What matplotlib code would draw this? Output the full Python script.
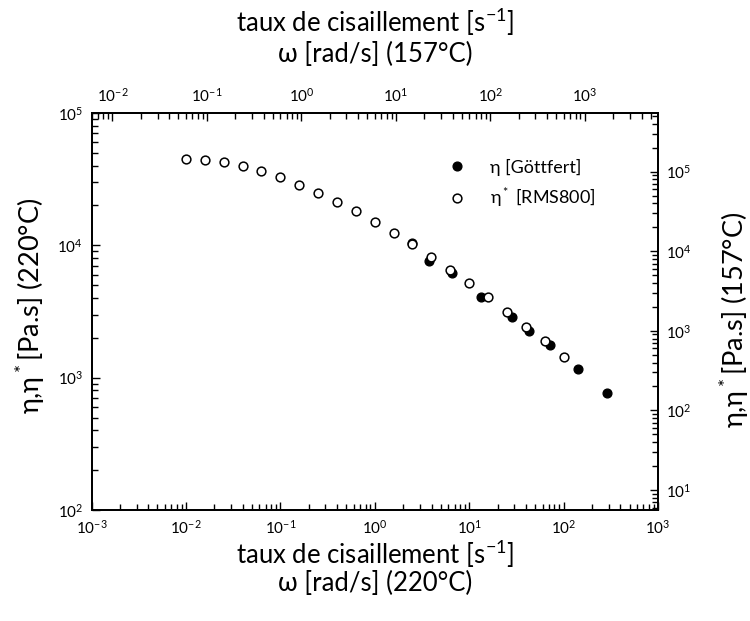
import matplotlib
matplotlib.use('Agg')
import matplotlib.pyplot as plt
import numpy as np
from matplotlib.ticker import LogLocator, NullFormatter, FixedLocator, LogFormatterSciNotation

# RMS800 dynamic data (open circles): omega [rad/s] at 220°C, eta* [Pa.s]
rms_omega = [0.01, 0.0158, 0.0251, 0.0398, 0.0631, 0.1, 0.158, 0.251, 0.398, 0.631,
             1.0, 1.58, 2.51, 3.98, 6.31, 10.0, 15.8, 25.1, 39.8, 63.1, 100.0]
rms_eta = [45150, 44360, 42370, 39520, 36460, 32840, 28720, 24990, 21380, 18170,
           14950, 12460, 10230, 8200, 6565, 5160, 4050, 3150, 2425, 1880, 1440]

# Göttfert capillary data (filled circles): shear rate [1/s], eta [Pa.s]
gott_rate = [2.50, 3.76, 6.59, 13.4, 28.3, 42.8, 71.4, 143.6, 287.0]
gott_eta = [10400, 7660, 6140, 4085, 2855, 2250, 1755, 1161, 769]

# major tick values of the four axes
bottom_ticks = [1e-3, 1e-2, 1e-1, 1e0, 1e1, 1e2, 1e3]
left_ticks = [1e2, 1e3, 1e4, 1e5]
top_ticks = [1e-2, 1e-1, 1e0, 1e1, 1e2, 1e3]
right_ticks = [1e1, 1e2, 1e3, 1e4, 1e5]

legend_labels = ['η [Göttfert]', 'η$^*$ [RMS800]']
bottom_label = 'taux de cisaillement [s$^{-1}$]\nω [rad/s] (220°C)'
top_label = 'taux de cisaillement [s$^{-1}$]\nω [rad/s] (157°C)'
left_label = 'η,η$^*$[Pa.s] (220°C)'
right_label = 'η,η$^*$[Pa.s] (157°C)'

plt.rcParams['font.family'] = ['Lato', 'DejaVu Sans']
plt.rcParams['mathtext.default'] = 'regular'
plt.rcParams['mathtext.fontset'] = 'custom'
plt.rcParams['mathtext.rm'] = 'Lato'
plt.rcParams['mathtext.it'] = 'Lato'
plt.rcParams['mathtext.bf'] = 'Lato'

W, H = 750, 621
L, R, T, B = 91.5, 658.0, 113.0, 510.0
fig = plt.figure(figsize=(W / 100, H / 100), dpi=100)
ax = fig.add_axes([L / W, 1 - B / H, (R - L) / W, (B - T) / H])
ax.set_xscale('log')
ax.set_yscale('log')
ax.set_xlim(1e-3, 1e3)
ax.set_ylim(1e2, 1e5)

h1, = ax.plot(gott_rate, gott_eta, 'o', ms=6.3, mfc='black', mec='black',
              mew=1.0, zorder=3, label=legend_labels[0])
h2, = ax.plot(rms_omega, rms_eta, 'o', ms=6.3, mfc='white', mec='black',
              mew=1.1, zorder=4, label=legend_labels[1])

ax_top = ax.twiny()
ax_top.set_xscale('log')
ax_top.set_xlim(10 ** -2.222, 10 ** 3.775)
ax_right = ax.twinx()
ax_right.set_yscale('log')
ax_right.set_ylim(10 ** 0.75, 10 ** 5.735)

for axis, ticks in [(ax.xaxis, bottom_ticks), (ax.yaxis, left_ticks),
                    (ax_top.xaxis, top_ticks), (ax_right.yaxis, right_ticks)]:
    axis.set_major_locator(FixedLocator(ticks))
    axis.set_major_formatter(LogFormatterSciNotation())
    axis.set_minor_locator(LogLocator(base=10, subs=np.arange(2, 10), numticks=100))
    axis.set_minor_formatter(NullFormatter())

for a in (ax, ax_top, ax_right):
    a.tick_params(which='both', direction='in', labelsize=11, pad=6)
    a.tick_params(which='major', length=6, width=1.0)
    a.tick_params(which='minor', length=4, width=1.0)
    for s in a.spines.values():
        s.set_linewidth(1.2)
ax.tick_params(which='both', top=False, right=False)

fsx = 18.5
fsy = 19.5
ax.set_xlabel(bottom_label, fontsize=fsx, va='center', linespacing=1.08)
ax.xaxis.set_label_coords(0.5, (B - 567) / (B - T))
ax_top.set_xlabel(top_label, fontsize=fsx, va='center', linespacing=1.2)
ax_top.xaxis.set_label_coords(0.5, (B - 37) / (B - T))
ax.set_ylabel(left_label, fontsize=fsy, va='center', ha='center')
ax.yaxis.set_label_coords((30 - L) / (R - L), 0.515)
ax_right.set_ylabel(right_label, fontsize=fsy, va='center', ha='center', rotation=90)
ax_right.yaxis.set_label_coords((734 - L) / (R - L), 0.48)

ax.legend(handles=[h1, h2], loc='upper left', bbox_to_anchor=(0.616, 0.903),
          frameon=False, fontsize=13, handlelength=1.0, handletextpad=1.35,
          labelspacing=0.55, borderpad=0.4, borderaxespad=0.0)

fig.savefig('out.png', dpi=100)
